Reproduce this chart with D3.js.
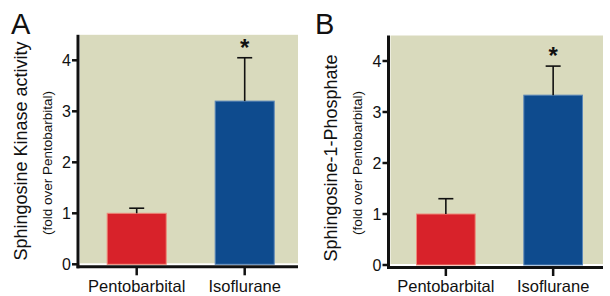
<!DOCTYPE html>
<html>
<head>
<meta charset="utf-8">
<script src="https://cdn.jsdelivr.net/npm/d3@7"></script>
<style>
  body { margin: 0; background: #fff; }
  svg { display: block; font-family: "Liberation Sans", Arial, sans-serif; }
</style>
</head>
<body>
<svg id="chart" width="610" height="296"></svg>
<script>
var groups = ["Pentobarbital", "Isoflurane"];
var kinaseMean = [1.0, 3.2];
var kinaseErr = [0.1, 0.85];
var s1pMean = [1.0, 3.33];
var s1pErr = [0.3, 0.57];
var yTicks = [0, 1, 2, 3, 4];

var COLORS = { bg: "#d9dabd", red: "#d8222a", redEdge: "#ee8a7a", blue: "#0e4b8e", blueEdge: "#5b86b8", ink: "#111" };

var svg = d3.select("#chart");

function drawPanel(p) {
  var g = svg.append("g");

  var yScale = d3.scaleLinear().domain([0, 4.5]).range([p.zeroY, p.zeroY - 4.5 * 51]);
  var xScale = d3.scaleBand().domain(groups).range(p.band).paddingInner(0.444).paddingOuter(0.222);

  // plot background
  g.append("rect")
    .attr("x", p.axisX + 2)
    .attr("y", yScale(4.5))
    .attr("width", p.bgRight - p.axisX - 2)
    .attr("height", yScale(0) - yScale(4.5) - 1)
    .style("fill", COLORS.bg);

  var data = groups.map((d, i) => ({ name: d, mean: p.mean[i], err: p.err[i] }));

  g.selectAll(".bar")
    .data(data).join("rect")
    .attr("class", "bar")
    .attr("x", d => xScale(d.name) + 0.5)
    .attr("y", d => yScale(d.mean))
    .attr("width", xScale.bandwidth() - 1)
    .attr("height", d => yScale(0) - yScale(d.mean))
    .style("fill", (d, i) => i == 0 ? COLORS.red : COLORS.blue)
    .style("stroke", (d, i) => i == 0 ? COLORS.redEdge : COLORS.blueEdge)
    .style("stroke-width", 1);

  // error bars (upper only)
  var cx = d => xScale(d.name) + xScale.bandwidth() / 2;
  g.selectAll(".err")
    .data(data).join("line")
    .attr("x1", cx).attr("x2", cx)
    .attr("y1", d => yScale(d.mean))
    .attr("y2", d => yScale(d.mean + d.err))
    .style("stroke", COLORS.ink).style("stroke-width", 1.6);
  g.selectAll(".cap")
    .data(data).join("line")
    .attr("x1", d => cx(d) - 7.5).attr("x2", d => cx(d) + 7.5)
    .attr("y1", d => yScale(d.mean + d.err))
    .attr("y2", d => yScale(d.mean + d.err))
    .style("stroke", COLORS.ink).style("stroke-width", 1.6);

  // significance star
  g.append("text")
    .attr("x", cx(data[1]))
    .attr("y", yScale(data[1].mean + data[1].err) - 2)
    .attr("text-anchor", "middle")
    .style("font-size", "24px").style("font-weight", "bold")
    .style("fill", COLORS.ink)
    .text("*");

  // y axis
  g.append("line")
    .attr("x1", p.axisX).attr("x2", p.axisX)
    .attr("y1", yScale(4.5)).attr("y2", yScale(0) + 4)
    .style("stroke", COLORS.ink).style("stroke-width", 3);
  g.selectAll(".ytick")
    .data(yTicks).join("line")
    .attr("x1", p.axisX - 6).attr("x2", p.axisX)
    .attr("y1", d => yScale(d)).attr("y2", d => yScale(d))
    .style("stroke", COLORS.ink).style("stroke-width", 2.5);
  g.selectAll(".ylab")
    .data(yTicks).join("text")
    .attr("x", p.axisX - 7)
    .attr("y", d => yScale(d))
    .attr("dy", "0.36em")
    .attr("text-anchor", "end")
    .style("font-size", "16px")
    .style("fill", COLORS.ink)
    .text(d => d);

  // x axis
  g.append("line")
    .attr("x1", p.axisX - 1.5).attr("x2", p.bgRight)
    .attr("y1", yScale(0) + 2.5).attr("y2", yScale(0) + 2.5)
    .style("stroke", COLORS.ink).style("stroke-width", 3);
  g.selectAll(".xtick")
    .data(groups).join("line")
    .attr("x1", d => xScale(d) + xScale.bandwidth() / 2)
    .attr("x2", d => xScale(d) + xScale.bandwidth() / 2)
    .attr("y1", yScale(0) + 2.5).attr("y2", yScale(0) + 11)
    .style("stroke", COLORS.ink).style("stroke-width", 2.5);
  g.selectAll(".xlab")
    .data(groups).join("text")
    .attr("x", d => xScale(d) + xScale.bandwidth() / 2)
    .attr("y", 292)
    .attr("text-anchor", "middle")
    .style("font-size", "16.5px")
    .style("fill", COLORS.ink)
    .text(d => d);

  // y titles
  g.append("text")
    .attr("transform", "translate(" + p.titleX + "," + p.titleY + ") rotate(-90)")
    .attr("text-anchor", "middle")
    .style("font-size", "18px").style("fill", COLORS.ink)
    .text(p.title);
  g.append("text")
    .attr("transform", "translate(" + p.subX + ",163) rotate(-90)")
    .attr("text-anchor", "middle")
    .style("font-size", "13.5px").style("fill", COLORS.ink)
    .text("(fold over Pentobarbital)");

  // panel letter
  g.append("text")
    .attr("x", p.letterX).attr("y", 34)
    .style("font-size", "29px").style("fill", COLORS.ink)
    .text(p.letter);
}

drawPanel({ letter: "A", letterX: 11, axisX: 78, bgRight: 298, zeroY: 264.3, band: [82.7, 298.7],
  mean: kinaseMean, err: kinaseErr, title: "Sphingosine Kinase activity", titleX: 27, titleY: 151, subX: 52 });
drawPanel({ letter: "B", letterX: 315, axisX: 388.5, bgRight: 603, zeroY: 265, band: [392.2, 606.8],
  mean: s1pMean, err: s1pErr, title: "Sphingosine-1-Phosphate", titleX: 337, titleY: 158, subX: 362 });
</script>
</body>
</html>
